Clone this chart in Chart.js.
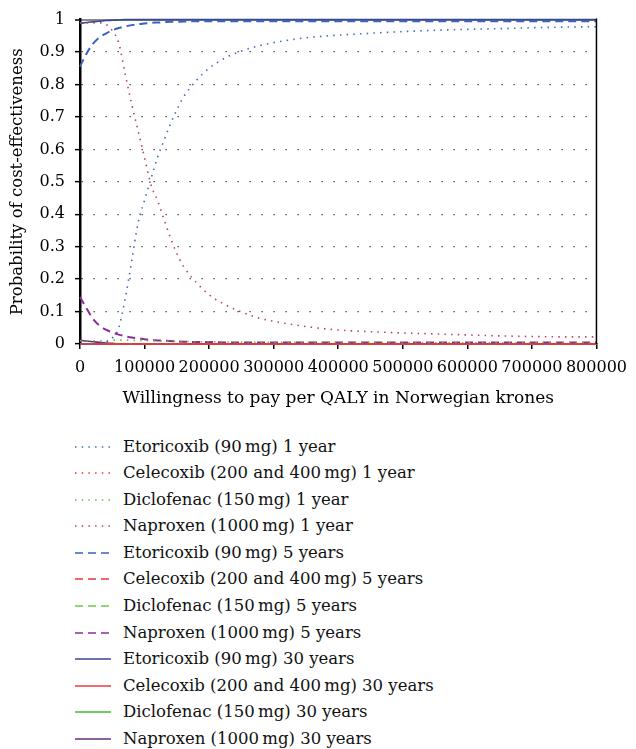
<!DOCTYPE html>
<html><head><meta charset="utf-8">
<script src="https://cdn.jsdelivr.net/npm/chart.js@4.4.1/dist/chart.umd.min.js"></script>
<style>
html,body{margin:0;padding:0;background:#fff;}
#wrap{position:relative;width:636px;height:749px;overflow:hidden;background:#fff;}
#c{position:absolute;left:0;top:0;}
#legend{position:absolute;left:0;top:433.5px;width:636px;font-family:"DejaVu Serif",serif;font-size:16.5px;color:#111;}
.item{position:relative;height:26.6px;line-height:26.6px;white-space:nowrap;}
.item svg{position:absolute;left:75px;top:8px;}
.item span{position:absolute;left:123px;top:0;}
</style></head>
<body>
<div id="wrap">
<canvas id="c" width="636" height="420"></canvas>
<div id="legend"></div>
</div>
<script>
// Willingness to pay (NOK per QALY)
const wtp = [0,10000,20000,30000,40000,50000,60000,70000,80000,90000,100000,110000,120000,130000,140000,150000,160000,180000,200000,225000,250000,275000,300000,350000,400000,450000,500000,550000,600000,650000,700000,750000,800000];

const etoricoxib1 = [0,0,0,0.002,0.006,0.018,0.05,0.14,0.255,0.374,0.443,0.51,0.575,0.627,0.678,0.722,0.76,0.812,0.85,0.882,0.903,0.918,0.929,0.944,0.952,0.958,0.963,0.967,0.97,0.972,0.975,0.977,0.978];
const celecoxib1 = [0,0,0,0,0,0,0,0,0,0,0,0,0,0,0,0,0,0,0,0,0,0,0,0,0,0,0,0,0,0,0,0,0];
const diclofenac1 = [0.01,0.01,0.01,0.01,0.01,0.012,0.012,0.012,0.012,0.011,0.011,0.01,0.01,0.009,0.009,0.008,0.008,0.007,0.007,0.006,0.006,0.006,0.005,0.005,0.005,0.005,0.004,0.004,0.004,0.004,0.004,0.004,0.004];
const naproxen1 = [0.99,0.99,0.99,0.99,0.986,0.966,0.928,0.832,0.74,0.657,0.574,0.49,0.443,0.385,0.328,0.279,0.24,0.19,0.152,0.121,0.099,0.081,0.07,0.054,0.043,0.038,0.034,0.031,0.028,0.025,0.023,0.022,0.022];

const etoricoxib5 = [0.855,0.895,0.925,0.945,0.957,0.967,0.974,0.979,0.983,0.986,0.988,0.99,0.991,0.992,0.993,0.993,0.994,0.995,0.995,0.995,0.995,0.995,0.995,0.995,0.995,0.995,0.995,0.995,0.995,0.995,0.995,0.995,0.995];
const celecoxib5 = [0,0,0,0,0,0,0,0,0,0,0,0,0,0,0,0,0,0,0,0,0,0,0,0,0,0,0,0,0,0,0,0,0];
const diclofenac5 = [0,0,0,0,0,0,0,0,0,0,0,0,0,0,0,0,0,0,0,0,0,0,0,0,0,0,0,0,0,0,0,0,0];
const naproxen5 = [0.145,0.11,0.078,0.057,0.044,0.036,0.029,0.024,0.02,0.017,0.015,0.012,0.011,0.01,0.009,0.008,0.007,0.006,0.006,0.005,0.005,0.005,0.005,0.005,0.005,0.005,0.005,0.005,0.005,0.005,0.005,0.005,0.005];

const etoricoxib30 = [0.988,0.991,0.993,0.995,0.997,0.998,0.999,1,1,1,1,1,1,1,1,1,1,1,1,1,1,1,1,1,1,1,1,1,1,1,1,1,1];
const celecoxib30 = [0,0,0,0,0,0,0,0,0,0,0,0,0,0,0,0,0,0,0,0,0,0,0,0,0,0,0,0,0,0,0,0,0];
const diclofenac30 = [0,0,0,0,0,0,0,0,0,0,0,0,0,0,0,0,0,0,0,0,0,0,0,0,0,0,0,0,0,0,0,0,0];
const naproxen30 = [0.012,0.009,0.007,0.005,0.003,0.002,0.001,0.001,0.001,0.001,0.001,0.001,0.001,0.001,0.001,0.001,0.001,0.001,0.001,0.001,0.001,0.001,0.001,0.001,0.001,0.001,0.001,0.001,0.001,0.001,0.001,0.001,0.001];

const xTicks = [0,100000,200000,300000,400000,500000,600000,700000,800000];
const yTicks = [0,0.1,0.2,0.3,0.4,0.5,0.6,0.7,0.8,0.9,1];

const labels = [
  'Etoricoxib (90\u2009mg) 1 year','Celecoxib (200 and 400\u2009mg) 1 year','Diclofenac (150\u2009mg) 1 year','Naproxen (1000\u2009mg) 1 year',
  'Etoricoxib (90\u2009mg) 5 years','Celecoxib (200 and 400\u2009mg) 5 years','Diclofenac (150\u2009mg) 5 years','Naproxen (1000\u2009mg) 5 years',
  'Etoricoxib (90\u2009mg) 30 years','Celecoxib (200 and 400\u2009mg) 30 years','Diclofenac (150\u2009mg) 30 years','Naproxen (1000\u2009mg) 30 years'
];
const series = [etoricoxib1,celecoxib1,diclofenac1,naproxen1,etoricoxib5,celecoxib5,diclofenac5,naproxen5,etoricoxib30,celecoxib30,diclofenac30,naproxen30];
const colors = ['#4468c4','#e8333a','#62c040','#b8406e','#3a60c0','#e8353c','#6cc84a','#8a2e96','#34478f','#ea3c40','#3fbf2c','#6a2c78'];
const styles = ['dot','dot','dot','dot','dash','dash','dash','dash','solid','solid','solid','solid'];
const dashFor = {dot:[1.5,5.2], dash:[8,5], solid:[]};
const widthFor = {dot:1.6, dash:2, solid:1.6};

const datasets = series.map((arr,i) => ({
  label: labels[i],
  data: wtp.map((x,j) => ({x:x, y:arr[j]})),
  borderColor: colors[i],
  backgroundColor: colors[i],
  borderWidth: widthFor[styles[i]],
  borderDash: dashFor[styles[i]],
  borderCapStyle: 'butt',
  pointRadius: 0,
  fill: false,
  cubicInterpolationMode: 'monotone',
  clip: 4
}));

const serif = '"DejaVu Serif",serif';
const isOne = c => c.tick && Math.abs(c.tick.value - 1) < 1e-6;

const framePlugin = {
  id: 'frame',
  afterDatasetsDraw(chart) {
    const a = chart.chartArea, ctx = chart.ctx;
    ctx.save();
    ctx.strokeStyle = '#000';
    ctx.lineWidth = 1.5;
    ctx.beginPath();
    ctx.moveTo(a.right, a.top - 1);
    ctx.lineTo(a.right, a.bottom);
    ctx.stroke();
    ctx.restore();
  }
};

const chart = new Chart(document.getElementById('c'), {
  type: 'line',
  data: { datasets },
  plugins: [framePlugin],
  options: {
    responsive: false,
    animation: false,
    devicePixelRatio: 1,
    layout: { padding: { top: 19, right: 32, left: 0, bottom: 0 } },
    plugins: { legend: { display: false }, tooltip: { enabled: false } },
    scales: {
      x: {
        type: 'linear', min: 0, max: 800000,
        afterFit: s => { s.height = 76; },
        afterBuildTicks: s => { s.ticks = xTicks.map(v => ({value: v})); },
        ticks: { autoSkip: false, maxRotation: 0, padding: 9, color: '#000',
          font: { family: serif, size: 16 }, callback: v => String(v) },
        grid: { drawOnChartArea: false, drawTicks: true, tickLength: 5, color: '#000', lineWidth: 1.5 },
        border: { display: true, color: '#000', width: 2 },
        title: { display: true, text: 'Willingness to pay per QALY in Norwegian krones', color: '#000',
          font: { family: serif, size: 17, lineHeight: 1.2 }, padding: { top: 0, bottom: 11 } }
      },
      y: {
        min: 0, max: 1,
        afterFit: s => { s.width = 80; },
        afterBuildTicks: s => { s.ticks = yTicks.map(v => ({value: v})); },
        ticks: { padding: 10, color: '#000', font: { family: serif, size: 16 },
          callback: v => String(Math.round(v * 10) / 10) },
        grid: {
          color: c => isOne(c) ? '#8a8a8a' : '#3a3a3a',
          lineWidth: c => isOne(c) ? 2 : 1.3,
          drawTicks: true, tickLength: 5, tickColor: '#000', tickWidth: 1.5, tickBorderDash: []
        },
        border: { display: true, color: '#000', width: 2.5, dash: c => isOne(c) || !c.tick ? [] : [1.3, 10.7] },
        title: { display: true, text: 'Probability of cost-effectiveness', color: '#000',
          font: { family: serif, size: 16.5, lineHeight: 1.2 }, padding: { top: 8, bottom: 0 } }
      }
    }
  }
});

// HTML legend built from the chart's datasets
const legend = document.getElementById('legend');
chart.data.datasets.forEach(ds => {
  const row = document.createElement('div');
  row.className = 'item';
  const dash = ds.borderDash.length ? ds.borderDash.join(' ') : 'none';
  row.innerHTML = '<svg width="36" height="10"><line x1="0" y1="5" x2="36" y2="5" stroke="' + ds.borderColor +
    '" stroke-width="1.6" stroke-dasharray="' + dash + '"/></svg><span></span>';
  row.querySelector('span').textContent = ds.label;
  legend.appendChild(row);
});
</script>
</body></html>
